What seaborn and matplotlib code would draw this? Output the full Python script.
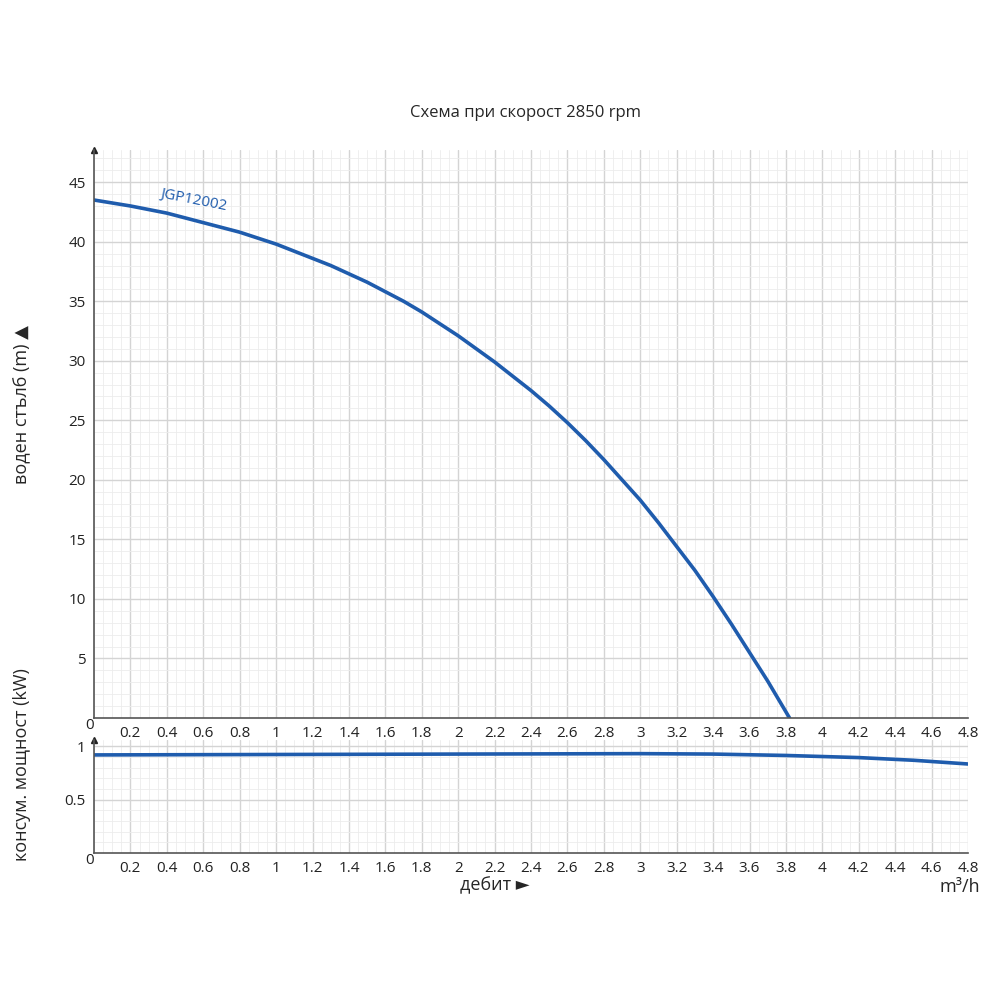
import matplotlib
matplotlib.use("Agg")
import matplotlib.pyplot as plt
import seaborn as sns
import numpy as np
from matplotlib.ticker import MultipleLocator

sns.set_style("white")
plt.rcParams['font.family'] = ['Open Sans', 'DejaVu Sans']

flow_h = [0, 0.1, 0.2, 0.3, 0.4, 0.5, 0.6, 0.7, 0.8, 0.9, 1.0, 1.1, 1.2, 1.3, 1.4, 1.5, 1.6, 1.7, 1.8, 1.9,
          2.0, 2.1, 2.2, 2.3, 2.4, 2.5, 2.6, 2.7, 2.8, 2.9, 3.0, 3.1, 3.2, 3.3, 3.4, 3.5, 3.6, 3.7, 3.82]
head = [43.5, 43.25, 43.0, 42.7, 42.4, 42.0, 41.6, 41.2, 40.8, 40.3, 39.8, 39.2, 38.6, 38.0, 37.3, 36.6, 35.8, 35.0, 34.1, 33.1,
        32.1, 31.0, 29.9, 28.7, 27.5, 26.2, 24.8, 23.3, 21.7, 20.0, 18.3, 16.4, 14.4, 12.4, 10.2, 7.9, 5.5, 3.1, 0.0]
flow_p = [0, 0.5, 1.0, 1.5, 2.0, 2.5, 3.0, 3.4, 3.8, 4.2, 4.5, 4.8]
power = [0.92, 0.922, 0.924, 0.926, 0.928, 0.93, 0.932, 0.928, 0.915, 0.895, 0.87, 0.835]
xticks = [0.2, 0.4, 0.6, 0.8, 1, 1.2, 1.4, 1.6, 1.8, 2, 2.2, 2.4, 2.6, 2.8, 3, 3.2, 3.4, 3.6, 3.8, 4, 4.2, 4.4, 4.6, 4.8]
col = "#1f5cad"

fig = plt.figure(figsize=(10, 10), dpi=100)
ax1 = fig.add_axes([0.094, 0.282, 0.874, 0.568])
ax2 = fig.add_axes([0.094, 0.147, 0.874, 0.113])

def style(ax, ymaj, ymin):
    ax.set_xlim(0, 4.8)
    ax.xaxis.set_major_locator(MultipleLocator(0.2))
    ax.xaxis.set_minor_locator(MultipleLocator(0.05))
    ax.yaxis.set_major_locator(MultipleLocator(ymaj))
    ax.yaxis.set_minor_locator(MultipleLocator(ymin))
    ax.grid(which='major', color='#d4d4d4', lw=1.0)
    ax.grid(which='minor', color='#ececec', lw=0.6)
    for s in ['top', 'right']:
        ax.spines[s].set_visible(False)
    for s in ['left', 'bottom']:
        ax.spines[s].set_color('#555555'); ax.spines[s].set_linewidth(1.2)
    ax.tick_params(which='both', length=0, labelsize=11, colors='#222222')
    ax.set_xticks(xticks)
    ax.set_xticklabels([f"{t:g}" for t in xticks])
    ax.plot(0, 1, '^', color='#222222', ms=5, transform=ax.transAxes, clip_on=False)

style(ax1, 5, 1)
ax1.set_ylim(0, 47.7)
ax1.set_yticks([5, 10, 15, 20, 25, 30, 35, 40, 45])
sns.lineplot(x=flow_h, y=head, ax=ax1, color=col, lw=2.6)
ax1.text(0.0, 0, "0", transform=ax1.transAxes, ha='right', va='top', fontsize=11, color='#222222')
ax1.text(0.55, 42.3, "JGP12002", rotation=-11, color=col, fontsize=11, ha='center', va='bottom')
ax1.set_xlabel(""); ax1.set_ylabel("")

style(ax2, 0.5, 0.1)
ax2.set_ylim(0, 1.06)
ax2.set_yticks([0.5, 1])
ax2.set_yticklabels(["0.5", "1"])
sns.lineplot(x=flow_p, y=power, ax=ax2, color=col, lw=2.6)
ax2.text(0.0, 0, "0", transform=ax2.transAxes, ha='right', va='top', fontsize=11, color='#222222')
ax2.set_xlabel(""); ax2.set_ylabel("")
for ax in (ax1, ax2):
    ax.tick_params(axis='y', pad=6)
    ax.tick_params(axis='x', pad=6)

fig.text(0.525, 0.887, "Схема при скорост 2850 rpm", ha='center', va='center', fontsize=12)
fig.text(0.022, 0.595, "воден стълб (m) ▲", rotation=90, ha='center', va='center', fontsize=13)
fig.text(0.022, 0.235, "консум. мощност (kW)", rotation=90, ha='center', va='center', fontsize=13)
fig.text(0.495, 0.115, "дебит ►", ha='center', va='center', fontsize=13)
fig.text(0.96, 0.113, "m³/h", ha='center', va='center', fontsize=13)

fig.savefig("out.png", dpi=100, facecolor='white')
